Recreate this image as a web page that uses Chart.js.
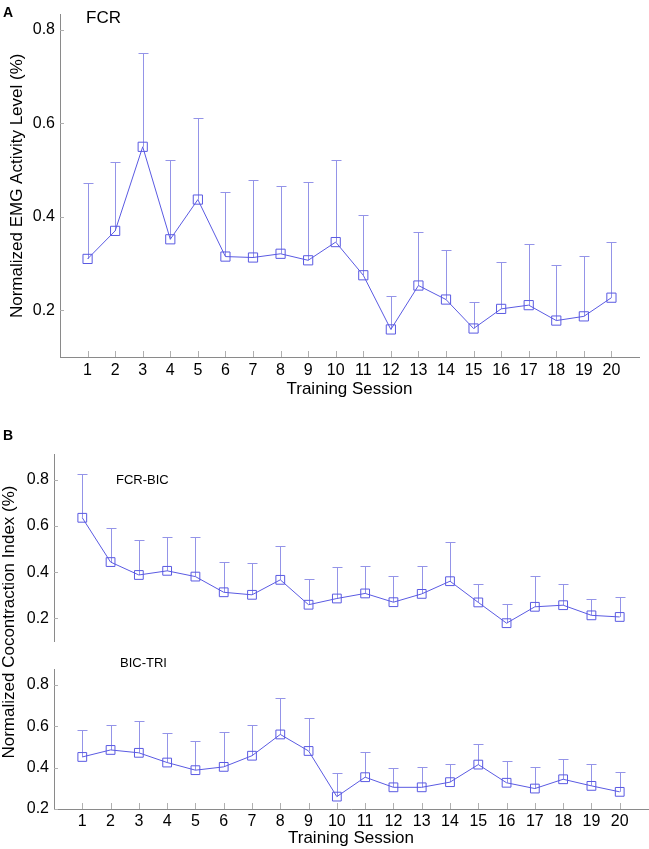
<!DOCTYPE html>
<html>
<head>
<meta charset="utf-8">
<script src="https://cdn.jsdelivr.net/npm/chart.js@4/dist/chart.umd.min.js"></script>
<style>
  html, body { margin:0; padding:0; background:#fff; }
  body { width:649px; height:849px; position:relative; overflow:hidden; font-family:"Liberation Sans", Arial, sans-serif; }
  canvas { position:absolute; left:0; }
  .lbl { position:absolute; line-height:1; white-space:nowrap; color:#000; }
</style>
</head>
<body>
<canvas id="cA" width="649" height="400" style="top:0px"></canvas>
<canvas id="cB1" width="649" height="216" style="top:440px"></canvas>
<canvas id="cB2" width="649" height="194" style="top:655px"></canvas>

<div class="lbl" style="left:3px;top:5px;font-size:14px;font-weight:bold;">A</div>
<div class="lbl" style="left:86px;top:9px;font-size:17px;">FCR</div>
<div class="lbl" style="left:3px;top:428px;font-size:14px;font-weight:bold;">B</div>
<div class="lbl" style="left:116px;top:473px;font-size:13px;">FCR-BIC</div>
<div class="lbl" style="left:120px;top:656px;font-size:13px;">BIC-TRI</div>
<div class="lbl" style="left:8px;top:622px;font-size:17px;transform:translate(-50%,-50%) rotate(-90deg);">Normalized Cocontraction Index (%)</div>

<script>
// ---- data ----
const sessions = [1,2,3,4,5,6,7,8,9,10,11,12,13,14,15,16,17,18,19,20];
const yTicksA = [0.2, 0.4, 0.6, 0.8];
const yTicksB = [0.2, 0.4, 0.6, 0.8];

const fcrMean  = [0.310,0.370,0.550,0.352,0.437,0.315,0.313,0.321,0.307,0.346,0.275,0.159,0.253,0.223,0.161,0.203,0.211,0.178,0.187,0.227];
const fcrUpper = [0.473,0.517,0.750,0.522,0.612,0.453,0.479,0.467,0.474,0.522,0.404,0.231,0.367,0.330,0.217,0.304,0.341,0.298,0.316,0.347];

const fcrBicMean  = [0.636,0.444,0.388,0.406,0.381,0.313,0.302,0.367,0.259,0.286,0.308,0.270,0.306,0.361,0.269,0.179,0.250,0.257,0.213,0.206];
const fcrBicUpper = [0.826,0.590,0.538,0.551,0.554,0.446,0.438,0.514,0.369,0.422,0.428,0.382,0.428,0.531,0.347,0.262,0.382,0.347,0.286,0.293];

const bicTriMean  = [0.452,0.486,0.472,0.425,0.388,0.404,0.458,0.561,0.481,0.260,0.354,0.305,0.305,0.330,0.415,0.327,0.299,0.344,0.312,0.283];
const bicTriUpper = [0.584,0.607,0.625,0.567,0.527,0.572,0.607,0.736,0.643,0.372,0.476,0.398,0.403,0.416,0.517,0.432,0.403,0.443,0.418,0.380];

// ---- styling ----
Chart.defaults.font.family = '"Liberation Sans", Arial, sans-serif';
Chart.defaults.color = '#000';
const LINE = '#5a5ae2';
const ERR = '#9494e8';
const AXIS = '#8a8a8a';
const TICK = '#b0b0b0';

const innerTicks = {
  id: 'innerTicks',
  beforeDatasetsDraw(chart) {
    const ctx = chart.ctx, xs = chart.scales.x, ys = chart.scales.y;
    ctx.save();
    ctx.strokeStyle = TICK; ctx.lineWidth = 1;
    if (xs.options.display) {
      xs.ticks.forEach(t => {
        const px = Math.round(xs.getPixelForValue(t.value)) + 0.5;
        ctx.beginPath(); ctx.moveTo(px, xs.top); ctx.lineTo(px, xs.top - 6); ctx.stroke();
      });
    }
    ys.ticks.forEach(t => {
      const py = Math.round(ys.getPixelForValue(t.value)) + 0.5;
      ctx.beginPath(); ctx.moveTo(ys.right, py); ctx.lineTo(ys.right + 4, py); ctx.stroke();
    });
    ctx.restore();
  }
};

const errorBars = {
  id: 'errorBars',
  beforeDatasetsDraw(chart) {
    const ctx = chart.ctx, xs = chart.scales.x, ys = chart.scales.y;
    ctx.save();
    ctx.strokeStyle = ERR; ctx.lineWidth = 1;
    chart.data.datasets.forEach(ds => {
      (ds.errorUpper || []).forEach((u, i) => {
        const px = Math.round(xs.getPixelForValue(ds.data[i].x)) + 0.5;
        const y0 = ys.getPixelForValue(ds.data[i].y);
        const y1 = Math.round(ys.getPixelForValue(u)) + 0.5;
        ctx.beginPath();
        ctx.moveTo(px, y0); ctx.lineTo(px, y1);
        ctx.moveTo(px - 5, y1); ctx.lineTo(px + 5, y1);
        ctx.stroke();
      });
    });
    ctx.restore();
  }
};

function makeChart(id, mean, upper, cfg) {
  return new Chart(document.getElementById(id), {
    type: 'line',
    data: {
      datasets: [{
        data: sessions.map((s, i) => ({ x: s, y: mean[i] })),
        errorUpper: upper,
        borderColor: LINE,
        borderWidth: 1,
        pointStyle: 'rect',
        pointRadius: cfg.pr,
        pointBorderWidth: 1,
        pointBorderColor: LINE,
        pointBackgroundColor: 'rgba(0,0,0,0)',
        fill: false,
        tension: 0
      }]
    },
    options: {
      responsive: false,
      animation: false,
      events: [],
      devicePixelRatio: 1,
      layout: { autoPadding: false, padding: cfg.padding },
      plugins: { legend: { display: false }, tooltip: { enabled: false } },
      scales: {
        x: {
          type: 'linear', min: 0, max: 21,
          display: cfg.showX,
          afterBuildTicks: s => { s.ticks = sessions.map(v => ({ value: v })); },
          afterFit: s => { s.height = cfg.xHeight; },
          grid: { display: false, drawTicks: false },
          border: { display: true, color: AXIS, width: 1 },
          ticks: { padding: cfg.xPad, autoSkip: false, maxRotation: 0, font: { size: 16 }, color: '#000',
                   callback: v => String(v) },
          title: { display: true, text: 'Training Session', font: { size: 17 }, color: '#000', padding: { top: 0, bottom: 0 } }
        },
        y: {
          type: 'linear', min: cfg.ymin, max: cfg.ymax,
          afterBuildTicks: s => { s.ticks = cfg.yTicks.map(v => ({ value: v })); },
          afterFit: s => { s.width = cfg.yWidth; },
          grid: { display: false, drawTicks: false },
          border: { display: true, color: AXIS, width: 1 },
          ticks: { padding: 5, font: { size: 16 }, color: '#000', callback: v => Number(v).toFixed(1) },
          title: { display: !!cfg.yTitle, text: cfg.yTitle || '', font: { size: 17 }, color: '#000', padding: { top: 7, bottom: 0 } }
        }
      }
    },
    plugins: [innerTicks, errorBars]
  });
}

makeChart('cA', fcrMean, fcrUpper, {
  pr: 6.5, padding: { top: 0, right: 10, bottom: 0, left: 0 },
  showX: true, xHeight: 43, xPad: 4, ymin: 0.1, ymax: 0.833, yTicks: yTicksA, yWidth: 60,
  yTitle: 'Normalized EMG Activity Level (%)'
});
makeChart('cB1', fcrBicMean, fcrBicUpper, {
  pr: 6.2, padding: { top: 13, right: 1, bottom: 0, left: 0 },
  showX: false, xHeight: 0, xPad: 3, ymin: 0.1, ymax: 0.91, yTicks: yTicksB, yWidth: 54
});
makeChart('cB2', bicTriMean, bicTriUpper, {
  pr: 6.2, padding: { top: 2, right: 1, bottom: 0, left: 0 },
  showX: true, xHeight: 40, xPad: 3, ymin: 0.2, ymax: 0.875, yTicks: yTicksB, yWidth: 54
});
</script>
</body>
</html>
